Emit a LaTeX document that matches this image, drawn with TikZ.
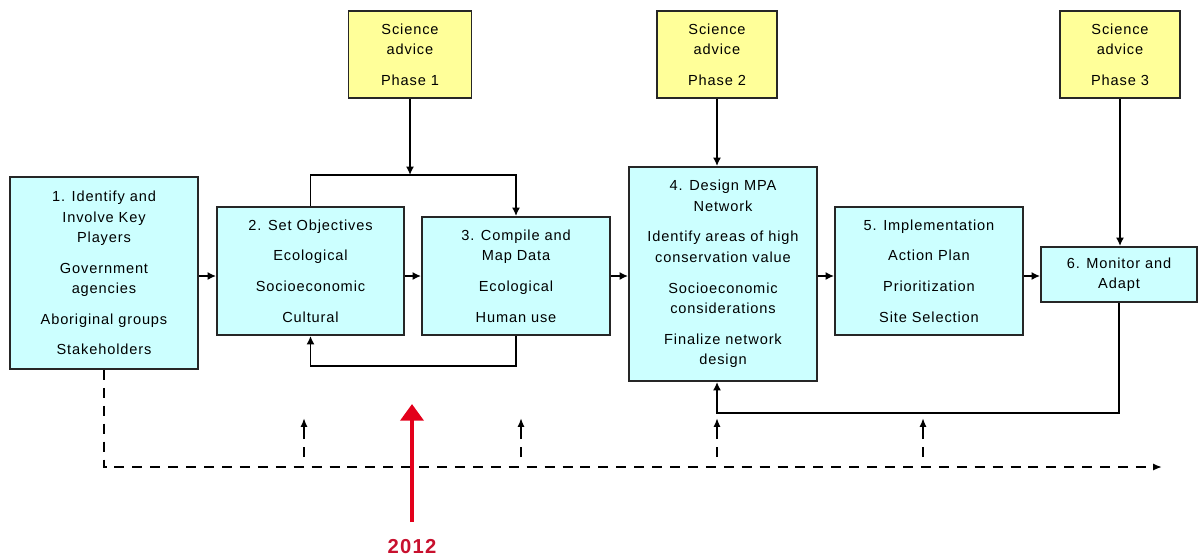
\documentclass[tikz,border=0pt]{standalone}
\usepackage{fontspec}
\setmainfont{Liberation Sans}[LetterSpace=6]
\usetikzlibrary{arrows.meta}

\definecolor{stagecyan}{HTML}{CCFFFF}
\definecolor{adviceyellow}{HTML}{FFFF99}
\definecolor{yearred}{HTML}{E3001B}
\definecolor{yeartext}{HTML}{C8102E}
\newcommand{\secgap}{5.7pt}

\tikzset{
  stage/.style={draw=black!85, line width=1.1pt, fill=stagecyan, inner sep=0pt,
    align=center, font=\fontsize{8.3}{11.7}\selectfont},
  advice/.style={stage, fill=adviceyellow},
  wire/.style={line width=1.1pt},
  link/.style={wire, -{Latex[length=4.8pt,width=4.6pt]}},
  tick/.style={line width=1pt, dash pattern=on 5.7pt off 4.5pt,
    -{Latex[length=5pt,width=4pt]}},
  shorttick/.style={tick, dash pattern=on 5.7pt off 4.5pt on 20pt off 1pt}
}

\begin{document}
\begin{tikzpicture}[x=0.02cm,y=-0.02cm]
    \useasboundingbox (0,0) rectangle (1199,559);

    \node[stage, minimum width=3.76cm, minimum height=3.84cm] (b1) at (104,273)
        {1. Identify and\\Involve Key\\Players\\[\secgap]Government\\agencies\\[\secgap]Aboriginal groups\\[\secgap]Stakeholders};
    \node[stage, minimum width=3.74cm, minimum height=2.56cm] (b2) at (310.5,271)
        {2. Set Objectives\\[\secgap]Ecological\\[\secgap]Socioeconomic\\[\secgap]Cultural};
    \node[stage, minimum width=3.76cm, minimum height=2.36cm] (b3) at (516,276)
        {3. Compile and\\Map Data\\[\secgap]Ecological\\[\secgap]Human use};
    \node[stage, minimum width=3.76cm, minimum height=4.28cm] (b4) at (723,274)
        {4. Design MPA\\Network\\[\secgap]Identify areas of high\\conservation value\\[\secgap]Socioeconomic\\considerations\\[\secgap]Finalize network\\design};
    \node[stage, minimum width=3.76cm, minimum height=2.56cm] (b5) at (929,271)
        {5. Implementation\\[\secgap]Action Plan\\[\secgap]Prioritization\\[\secgap]Site Selection};
    \node[stage, minimum width=3.12cm, minimum height=1.10cm] (b6) at (1119,274.5)
        {6. Monitor and\\Adapt};

    \node[advice, minimum width=2.46cm, minimum height=1.74cm] (s1) at (410,54.5)
        {Science\\advice\\[\secgap]Phase 1};
    \node[advice, minimum width=2.40cm, minimum height=1.74cm] (s2) at (717,54.5)
        {Science\\advice\\[\secgap]Phase 2};
    \node[advice, minimum width=2.40cm, minimum height=1.74cm] (s3) at (1120,54.5)
        {Science\\advice\\[\secgap]Phase 3};

    \coordinate (row) at (0,276);
    \foreach \a/\b in {b1/b2,b2/b3,b3/b4,b4/b5,b5/b6}
        \draw[link] (\a.east |- row) -- (\b.west |- row);

    \coordinate (top) at (0,175);
    \coordinate (bot) at (0,366);
    \coordinate (fb) at (0,413);
    \draw[link] (b2.north) -- (b2.north |- top) -- (b3.north |- top) -- (b3.north);
    \draw[link] (s1.south) -- (s1.south |- top);
    \draw[link] (b3.south) -- (b3.south |- bot) -- (b2.south |- bot) -- (b2.south);
    \draw[link] (s2.south) -- (s2.south |- b4.north);
    \draw[link] (s3.south) -- (s3.south |- b6.north);
    \draw[link] (b6.south) -- (b6.south |- fb) -- (s2.south |- fb) -- (s2.south |- b4.south);

    \coordinate (t0) at (104,467);
    \coordinate (t1) at (1162,467);
    \draw[tick] (b1.south) -- (b1.south |- t0) -- (t1);
    \foreach \x [count=\i] in {304,521,717,923} {
        \coordinate (u\i) at (\x,457);
        \coordinate (v\i) at (\x,418);
        \draw[shorttick] (u\i) -- (v\i);
    }

    \coordinate (r0) at (412,522);
    \coordinate (r1) at (412,404);
    \draw[yearred, line width=2.8pt, -{Triangle[length=9.5pt,width=13pt]}] (r0) -- (r1);
    \node[text=yeartext, font=\bfseries\fontsize{11.5}{13}\selectfont] (year) at (412,547) {2012};
\end{tikzpicture}
\end{document}
